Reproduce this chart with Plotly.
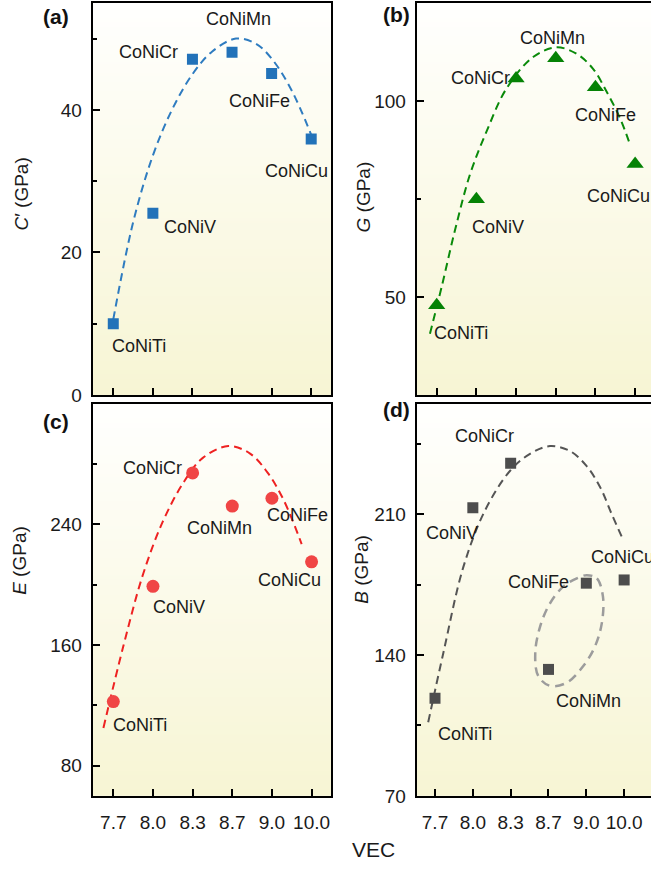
import base64
import struct
import zlib

import plotly.graph_objects as go

# ---- data -------------------------------------------------------------
alloys = ["CoNiTi", "CoNiV", "CoNiCr", "CoNiMn", "CoNiFe", "CoNiCu"]
vec_labels = ["7.7", "8.0", "8.3", "8.7", "9.0", "10.0"]

c_prime = [10.0, 25.5, 47.1, 48.1, 45.1, 35.9]
shear_g = [47.9, 74.9, 105.7, 110.9, 103.5, 83.9]
young_e = [122.5, 199.0, 274.2, 252.2, 257.4, 215.2]
bulk_b = [118.6, 213.3, 235.4, 132.9, 175.8, 177.4]

# y tick values (major, minor) for each panel
ticks_c = ([0, 20, 40], [10, 30, 50])
ticks_g = ([50, 100], [75])
ticks_e = ([80, 160, 240], [120, 200, 280])
ticks_b = ([70, 140, 210], [105, 175, 245])

# guide-to-the-eye trend curves (position along the VEC axis, value)
trend_c_x = [0, 0.5, 1.0, 1.5, 2.0, 2.5, 3.1, 3.6, 4.0, 4.5, 5.0]
trend_c_y = [10.6, 24.2, 33.6, 40.2, 45.0, 48.2, 50.0, 49.3, 47.2, 42.8, 36.5]

trend_g_x = [-0.17, 0.13, 0.46, 0.84, 1.26, 1.76, 2.43, 3.02, 3.53, 3.94, 4.28, 4.62, 4.87]
trend_g_y = [40.6, 52.8, 67.0, 81.3, 92.3, 103.2, 111.2, 113.7, 112.0, 108.2, 102.4, 95.6, 88.9]

trend_e_x = [-0.25, 0.25, 0.75, 1.25, 1.75, 2.25, 2.9, 3.45, 3.9, 4.3, 4.75]
trend_e_y = [105.0, 159.0, 207.0, 242.0, 267.0, 284.0, 292.0, 287.0, 274.0, 256.0, 227.0]

trend_b_x = [-0.18, 0.22, 0.75, 1.32, 1.98, 2.5, 3.04, 3.57, 4.01, 4.37, 4.67, 4.98]
trend_b_y = [106.6, 141.1, 183.9, 211.9, 231.6, 240.0, 244.0, 241.5, 234.0, 223.4, 210.2, 197.1]

loop_b_x = [4.01, 4.28, 4.44, 4.41, 4.23, 3.92, 3.48, 3.04, 2.73, 2.65, 2.78, 3.04, 3.39, 3.75, 4.01]
loop_b_y = [179.8, 178.2, 169.1, 155.9, 144.4, 134.6, 126.3, 124.7, 129.6, 141.1, 154.3, 165.8, 174.1, 178.2, 179.8]

# ---- helpers ----------------------------------------------------------
W, H = 651, 874
FONT = "Liberation Sans, Arial, sans-serif"


def px(x):
    return x / W


def py(y):
    return 1 - y / H


def gradient_uri(top, bottom, n=256, width=4):
    rows = b""
    for i in range(n):
        t = i / (n - 1)
        pixel = bytes(int(round(a + (b - a) * t)) for a, b in zip(top, bottom))
        rows += b"\x00" + pixel * width

    def chunk(tag, data):
        return (struct.pack(">I", len(data)) + tag + data
                + struct.pack(">I", zlib.crc32(tag + data) & 0xFFFFFFFF))

    ihdr = struct.pack(">IIBBBBB", width, n, 8, 2, 0, 0, 0)
    png = (b"\x89PNG\r\n\x1a\n" + chunk(b"IHDR", ihdr)
           + chunk(b"IDAT", zlib.compress(rows)) + chunk(b"IEND", b""))
    return "data:image/png;base64," + base64.b64encode(png).decode()


bg = gradient_uri((255, 255, 254), (247, 245, 212))

xs = list(range(len(alloys)))

panels = [
    dict(ax="", vals=c_prime, tx=trend_c_x, ty=trend_c_y, color="#2272B9",
         symbol="square", size=11,
         offs=[(26, 22), (37, 14), (-44, -7), (6, -33), (-12, 27), (-15, 32)]),
    dict(ax="2", vals=shear_g, tx=trend_g_x, ty=trend_g_y, color="#058205",
         symbol="triangle-up", size=15,
         offs=[(24, 28), (22, 28), (-36, -1), (-3, -20), (10, 28), (-17, 32)]),
    dict(ax="3", vals=young_e, tx=trend_e_x, ty=trend_e_y, color="#F04545",
         symbol="circle", size=13,
         offs=[(27, 23), (26, 21), (-40, -5), (-13, 22), (26, 17), (-22, 18)]),
    dict(ax="4", vals=bulk_b, tx=trend_b_x, ty=trend_b_y, color="#4D4D4D",
         symbol="square", size=11,
         offs=[(30, 36), (-21, 25), (-26, -27), (40, 32), (-48, -1), (-2, -23)]),
]

trend_colors = {"": "#2F7CC0", "2": "#0A8A0A", "3": "#EE2222", "4": "#555555"}

fig = go.Figure()
annotations = []
images = []

for p in panels:
    xa, ya = "x" + p["ax"], "y" + p["ax"]
    fig.add_trace(go.Scatter(
        x=p["tx"], y=p["ty"], xaxis=xa, yaxis=ya, mode="lines",
        line=dict(color=trend_colors[p["ax"]], width=2, dash="8px,5px",
                  shape="spline", smoothing=1.0),
        hoverinfo="skip", showlegend=False))
    if p["ax"] == "4":
        fig.add_trace(go.Scatter(
            x=loop_b_x, y=loop_b_y, xaxis=xa, yaxis=ya, mode="lines",
            line=dict(color="#9C9C9C", width=2.5, dash="9px,6px", shape="spline"),
            hoverinfo="skip", showlegend=False))
    fig.add_trace(go.Scatter(
        x=xs, y=p["vals"], xaxis=xa, yaxis=ya, mode="markers",
        marker=dict(color=p["color"], symbol=p["symbol"], size=p["size"], line=dict(width=0)),
        showlegend=False))
    for i, name in enumerate(alloys):
        dx, dy = p["offs"][i]
        annotations.append(dict(
            x=xs[i], y=p["vals"][i], xref=xa, yref=ya, text=name, showarrow=False,
            xshift=dx, yshift=-dy, font=dict(family=FONT, size=18, color="#1A1A1A")))
    images.append(dict(
        source=bg, xref=xa + " domain", yref=ya + " domain", x=0, y=1,
        sizex=1, sizey=1, sizing="stretch", xanchor="left", yanchor="top",
        layer="below"))

# axis titles, panel tags and the shared x title
titles = [
    ("<i>C</i>′ (GPa)", 22, 197),
    ("<i>G</i> (GPa)", 363, 200),
    ("<i>E</i> (GPa)", 20, 568),
    ("<i>B</i> (GPa)", 362, 577),
]
for text, x, y in titles:
    annotations.append(dict(
        x=px(x), y=py(y), xref="paper", yref="paper", text=text, textangle=-90,
        showarrow=False, xanchor="center", yanchor="middle",
        font=dict(family=FONT, size=19, color="#1A1A1A")))

for text, x, y in [("(a)", 56, 17), ("(b)", 397, 15), ("(c)", 56, 427), ("(d)", 397, 415)]:
    annotations.append(dict(
        x=px(x), y=py(y), xref="paper", yref="paper", text="<b>" + text + "</b>",
        showarrow=False, xanchor="center", yanchor="middle",
        font=dict(family=FONT, size=21, color="#111111")))

annotations.append(dict(
    x=px(373), y=py(860), xref="paper", yref="paper", text="VEC", showarrow=False,
    xanchor="center", yanchor="middle", font=dict(family=FONT, size=21, color="#1A1A1A")))

# ---- axes -------------------------------------------------------------
left_dom = [px(92.7), px(331)]
right_dom = [px(416.7), 1.0]
top_dom = [py(400), py(3)]
bot_dom = [py(806), py(409)]

axis_common = dict(showline=True, linewidth=2, linecolor="black", ticks="inside",
                   ticklen=7, tickwidth=1.5, tickcolor="black", showgrid=False,
                   zeroline=False, tickfont=dict(family=FONT, size=19, color="#1A1A1A"))


def xaxis(dom, anchor, rng, labels):
    return dict(axis_common, domain=dom, anchor=anchor, range=rng, mirror=True,
                tickmode="array", tickvals=xs, ticktext=vec_labels,
                showticklabels=labels, ticklabelstandoff=8)


def yaxis(dom, anchor, rng, tickset, mirror):
    major, minor = tickset
    return dict(axis_common, domain=dom, anchor=anchor, range=rng,
                tickmode="array", tickvals=major, mirror=mirror,
                ticklabelstandoff=5,
                minor=dict(ticks="inside", ticklen=4, tickwidth=1.5,
                           tickcolor="black", tickmode="array", tickvals=minor))


fig.update_layout(
    width=W, height=H, margin=dict(l=0, r=0, t=0, b=0),
    paper_bgcolor="white", plot_bgcolor="rgba(0,0,0,0)",
    font=dict(family=FONT),
    xaxis=xaxis(left_dom, "y", [-0.52, 5.5], False),
    yaxis=yaxis(top_dom, "x", [0, 55], ticks_c, True),
    xaxis2=xaxis(right_dom, "y2", [-0.504, 5.4], False),
    yaxis2=yaxis(top_dom, "x2", [25, 125], ticks_g, False),
    xaxis3=xaxis(left_dom, "y3", [-0.52, 5.49], True),
    yaxis3=yaxis(bot_dom, "x3", [60, 320], ticks_e, True),
    xaxis4=xaxis(right_dom, "y4", [-0.484, 5.71], True),
    yaxis4=yaxis(bot_dom, "x4", [70, 265], ticks_b, False),
    annotations=annotations,
    images=images,
)

fig.write_html("out.html")
